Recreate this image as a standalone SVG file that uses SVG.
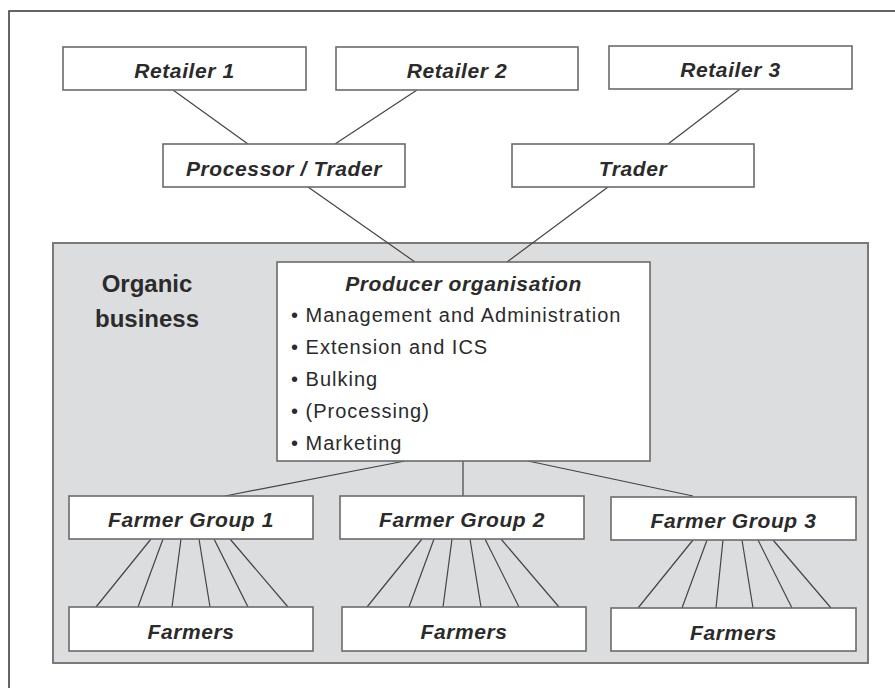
<svg xmlns="http://www.w3.org/2000/svg" width="895" height="688" viewBox="0 0 895 688">
<style>
.box{fill:#fff;stroke:#6b6b6b;stroke-width:1.6}
.lbl{font-family:"Liberation Sans",Arial,sans-serif;font-weight:bold;font-style:italic;font-size:21px;letter-spacing:0.6px;fill:#2b2b2b;text-anchor:middle}
.bul{font-family:"Liberation Sans",Arial,sans-serif;font-size:20px;letter-spacing:1px;fill:#2b2b2b}
.ttl{font-family:"Liberation Sans",Arial,sans-serif;font-weight:bold;font-size:24px;fill:#2b2b2b;text-anchor:middle}
.con line{stroke:#444;stroke-width:1.2}
</style>
<rect width="895" height="688" fill="#fff"/>
<path d="M9,688 V11 H895" fill="none" stroke="#333" stroke-width="1.5"/>
<g id="organic-business">
<rect x="53" y="243" width="815" height="420" fill="#dcdddf" stroke="#7a7a7a" stroke-width="2"/>
<text class="ttl" x="147" y="292">Organic</text>
<text class="ttl" x="147" y="327">business</text>
</g>
<g class="con" id="connectors">
<line x1="173" y1="90" x2="248" y2="144"/>
<line x1="417" y1="90" x2="335" y2="144"/>
<line x1="740" y1="89" x2="668" y2="144"/>
<line x1="308" y1="187" x2="415" y2="262"/>
<line x1="608" y1="187" x2="507" y2="262"/>
<line x1="405" y1="461" x2="225" y2="496"/>
<line x1="463" y1="461" x2="463" y2="496"/>
<line x1="528" y1="461" x2="693" y2="496"/>
<line x1="151" y1="539" x2="96" y2="607"/>
<line x1="163" y1="539" x2="138" y2="607"/>
<line x1="181" y1="539" x2="172" y2="607"/>
<line x1="199" y1="539" x2="210" y2="607"/>
<line x1="214" y1="539" x2="248" y2="607"/>
<line x1="230" y1="539" x2="288" y2="607"/>
<line x1="422" y1="539" x2="367" y2="607"/>
<line x1="434" y1="539" x2="409" y2="607"/>
<line x1="452" y1="539" x2="443" y2="607"/>
<line x1="470" y1="539" x2="481" y2="607"/>
<line x1="485" y1="539" x2="519" y2="607"/>
<line x1="501" y1="539" x2="559" y2="607"/>
<line x1="693" y1="540" x2="638" y2="608"/>
<line x1="707" y1="540" x2="682" y2="608"/>
<line x1="723" y1="540" x2="716" y2="608"/>
<line x1="742" y1="540" x2="753" y2="608"/>
<line x1="758" y1="540" x2="792" y2="608"/>
<line x1="773" y1="540" x2="831" y2="608"/>
</g>
<g id="retailer1"><rect class="box" x="63" y="47" width="243" height="43"/><text class="lbl" x="184.5" y="78">Retailer 1</text></g>
<g id="retailer2"><rect class="box" x="336" y="47" width="242" height="43"/><text class="lbl" x="457" y="78">Retailer 2</text></g>
<g id="retailer3"><rect class="box" x="609" y="46" width="243" height="43"/><text class="lbl" x="730.5" y="77">Retailer 3</text></g>
<g id="processor-trader"><rect class="box" x="163" y="144" width="242" height="43"/><text class="lbl" x="284" y="176">Processor / Trader</text></g>
<g id="trader"><rect class="box" x="512" y="144" width="242" height="43"/><text class="lbl" x="633" y="176">Trader</text></g>
<g id="producer-organisation">
<rect class="box" x="277" y="262" width="373" height="199" stroke-width="2"/>
<text class="lbl" x="463.5" y="291">Producer organisation</text>
<text class="bul" x="291" y="322">• Management and Administration</text>
<text class="bul" x="291" y="354">• Extension and ICS</text>
<text class="bul" x="291" y="386">• Bulking</text>
<text class="bul" x="291" y="418">• (Processing)</text>
<text class="bul" x="291" y="450">• Marketing</text>
</g>
<g id="farmer-group1"><rect class="box" x="69" y="496" width="244" height="43"/><text class="lbl" x="191" y="527">Farmer Group 1</text></g>
<g id="farmer-group2"><rect class="box" x="340" y="496" width="244" height="43"/><text class="lbl" x="462" y="527">Farmer Group 2</text></g>
<g id="farmer-group3"><rect class="box" x="611" y="497" width="245" height="43"/><text class="lbl" x="733.5" y="528">Farmer Group 3</text></g>
<g id="farmers1"><rect class="box" x="69" y="607" width="244" height="44"/><text class="lbl" x="191" y="639">Farmers</text></g>
<g id="farmers2"><rect class="box" x="342" y="607" width="244" height="44"/><text class="lbl" x="464" y="639">Farmers</text></g>
<g id="farmers3"><rect class="box" x="611" y="608" width="245" height="43"/><text class="lbl" x="733.5" y="640">Farmers</text></g>
</svg>
